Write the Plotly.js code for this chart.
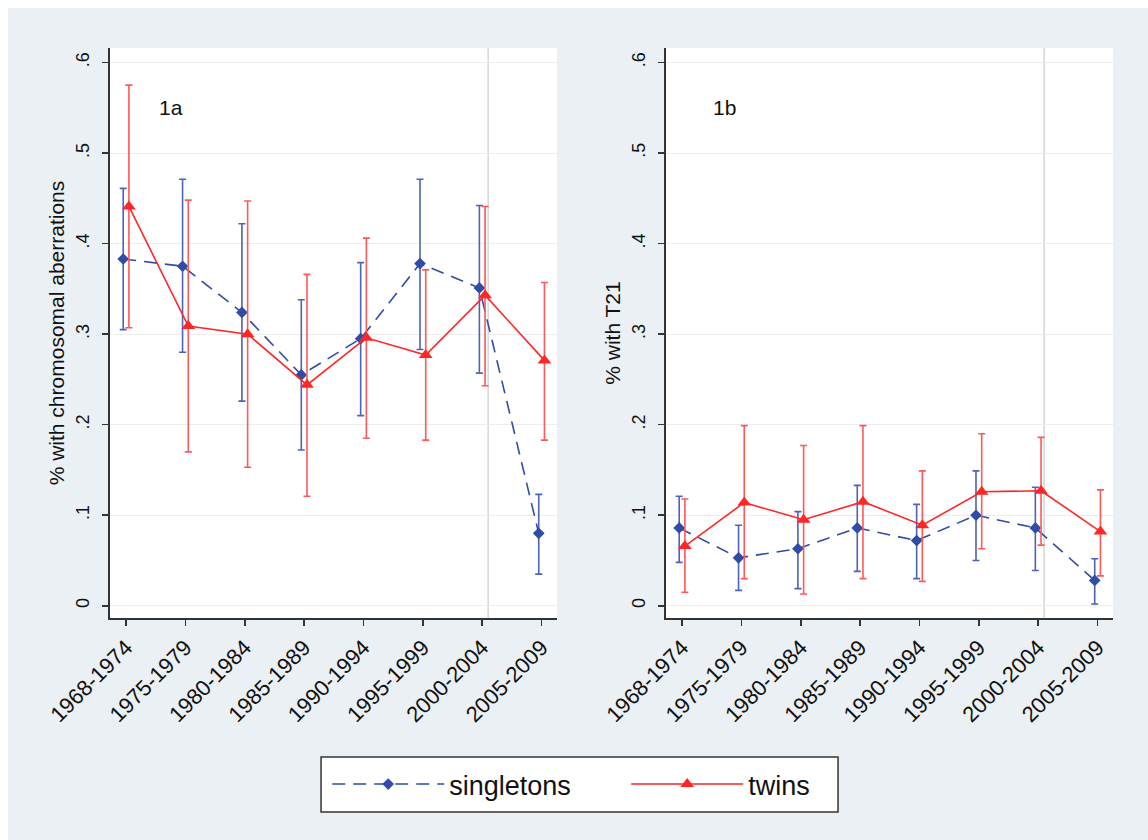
<!DOCTYPE html>
<html><head><meta charset="utf-8">
<script src="https://cdn.plot.ly/plotly-3.0.1.min.js"></script>
<style>html,body{margin:0;padding:0;background:#fff;} #chart{position:absolute;left:8px;top:8px;width:1140px;height:832px;}</style>
</head><body><div id="chart"></div>
<script>
const periods = ['1968-1974','1975-1979','1980-1984','1985-1989','1990-1994','1995-1999','2000-2004','2005-2009'];
const yTickVals = [0, 0.1, 0.2, 0.3, 0.4, 0.5, 0.6];
const yTickText = ['0', '.1', '.2', '.3', '.4', '.5', '.6'];
const seriesNames = ['singletons', 'twins'];
const panelLabels = ['1a', '1b'];
const yTitles = ['% with chromosomal aberrations', '% with T21'];

// Panel 1a: chromosomal aberrations
const chromSingVal = [0.383, 0.375, 0.324, 0.255, 0.295, 0.378, 0.351, 0.080];
const chromSingHi  = [0.461, 0.471, 0.422, 0.338, 0.379, 0.471, 0.442, 0.123];
const chromSingLo  = [0.305, 0.280, 0.226, 0.172, 0.210, 0.283, 0.257, 0.035];
const chromTwinVal = [0.441, 0.309, 0.300, 0.244, 0.296, 0.277, 0.343, 0.271];
const chromTwinHi  = [0.575, 0.448, 0.447, 0.366, 0.406, 0.371, 0.441, 0.357];
const chromTwinLo  = [0.307, 0.170, 0.153, 0.121, 0.185, 0.183, 0.243, 0.183];

// Panel 1b: T21
const t21SingVal = [0.086, 0.053, 0.063, 0.086, 0.072, 0.100, 0.086, 0.028];
const t21SingHi  = [0.121, 0.089, 0.104, 0.133, 0.112, 0.149, 0.131, 0.052];
const t21SingLo  = [0.048, 0.017, 0.019, 0.038, 0.030, 0.050, 0.039, 0.002];
const t21TwinVal = [0.066, 0.114, 0.095, 0.115, 0.089, 0.126, 0.127, 0.082];
const t21TwinHi  = [0.118, 0.199, 0.177, 0.199, 0.149, 0.190, 0.186, 0.128];
const t21TwinLo  = [0.015, 0.030, 0.013, 0.030, 0.027, 0.063, 0.067, 0.033];

const refLineAt = 6.1; // vertical reference line near 2000-2004

const BLUE = '#2f4ca6', BLUE_BAR = '#4d62b9';
const RED = '#ff2626', RED_BAR = '#ff5858';
const FONT = 'Liberation Sans, Arial, Helvetica, sans-serif';
const idx = periods.map((_, i) => i);
const off = 0.048;

function mk(val, hi, lo, name, isTwin, xa, ya, showLeg) {
  return {
    type: 'scatter', mode: 'lines+markers', name: name,
    x: idx.map(i => i + (isTwin ? off : -off)), y: val,
    xaxis: xa, yaxis: ya, showlegend: showLeg,
    line: isTwin ? {color: RED, width: 1.6} : {color: BLUE, width: 1.6, dash: '13px,8px'},
    marker: isTwin ? {symbol: 'triangle-up', size: 12, color: RED} : {symbol: 'diamond', size: 9, color: BLUE},
    error_y: {type: 'data', symmetric: false,
      array: hi.map((h, i) => h - val[i]), arrayminus: lo.map((l, i) => val[i] - l),
      color: isTwin ? RED_BAR : BLUE_BAR, thickness: 1.6, width: 3.5},
    hoverinfo: 'x+y'
  };
}

const data = [
  mk(chromSingVal, chromSingHi, chromSingLo, seriesNames[0], false, 'x', 'y', true),
  mk(chromTwinVal, chromTwinHi, chromTwinLo, seriesNames[1], true, 'x', 'y', true),
  mk(t21SingVal, t21SingHi, t21SingLo, seriesNames[0], false, 'x2', 'y2', false),
  mk(t21TwinVal, t21TwinHi, t21TwinLo, seriesNames[1], true, 'x2', 'y2', false)
];

function xax(dom, anchor) {
  return {domain: dom, anchor: anchor, range: [-0.27, 7.26], automargin: false,
    tickvals: idx, ticktext: periods, tickangle: -45,
    tickfont: {family: FONT, size: 22, color: '#111'},
    ticks: 'outside', ticklen: 6, tickwidth: 1.5, tickcolor: '#333',
    showline: true, linecolor: '#333', linewidth: 2, showgrid: false, zeroline: false, fixedrange: true};
}
function yax(dom, anchor, title) {
  return {domain: dom, anchor: anchor, range: [-0.0135, 0.616], automargin: false,
    tickvals: yTickVals, ticktext: yTickText, tickangle: -90,
    tickfont: {family: FONT, size: 18, color: '#111'}, ticklabelstandoff: 6,
    ticks: 'outside', ticklen: 6, tickwidth: 1.5, tickcolor: '#333',
    showline: true, linecolor: '#333', linewidth: 2,
    showgrid: true, gridcolor: '#ededed', gridwidth: 1, zeroline: false,
    title: {text: title, font: {family: FONT, size: 21, color: '#111'}, standoff: 2}, fixedrange: true};
}

const yDom = [0.2668, 0.9519];
const layout = {
  width: 1140, height: 832,
  margin: {l: 0, r: 0, t: 0, b: 0, autoexpand: false},
  paper_bgcolor: '#eaf0f4', plot_bgcolor: '#ffffff',
  showlegend: true,
  xaxis: xax([0.0895, 0.4816], 'y'),
  yaxis: yax(yDom, 'x', yTitles[0]),
  xaxis2: xax([0.5772, 0.9693], 'y2'),
  yaxis2: yax(yDom, 'x2', yTitles[1]),
  shapes: [
    {type: 'line', xref: 'x', yref: 'y domain', x0: refLineAt, x1: refLineAt, y0: 0, y1: 1, line: {color: '#d6d6d6', width: 1.5}, layer: 'below'},
    {type: 'line', xref: 'x2', yref: 'y2 domain', x0: refLineAt, x1: refLineAt, y0: 0, y1: 1, line: {color: '#d6d6d6', width: 1.5}, layer: 'below'},
    {type: 'rect', xref: 'paper', yref: 'paper', x0: 0.2746, x1: 0.7281, y0: 0.0337, y1: 0.0998, fillcolor: '#ffffff', line: {color: '#333', width: 1.5}, layer: 'below'}
  ],
  annotations: [
    {xref: 'x', yref: 'y', x: 0.75, y: 0.55, text: panelLabels[0], showarrow: false, font: {family: FONT, size: 21, color: '#111'}},
    {xref: 'x2', yref: 'y2', x: 0.72, y: 0.55, text: panelLabels[1], showarrow: false, font: {family: FONT, size: 21, color: '#111'}}
  ],
  legend: {orientation: 'h', x: 0.28, xanchor: 'left', y: 0.0667, yanchor: 'middle',
    bgcolor: 'rgba(0,0,0,0)', borderwidth: 0, font: {family: FONT, size: 27, color: '#111'},
    itemwidth: 112, entrywidth: 172, entrywidthmode: 'pixels', traceorder: 'normal'}
};

Plotly.newPlot('chart', data, layout, {displayModeBar: false, staticPlot: true});
</script></body></html>
